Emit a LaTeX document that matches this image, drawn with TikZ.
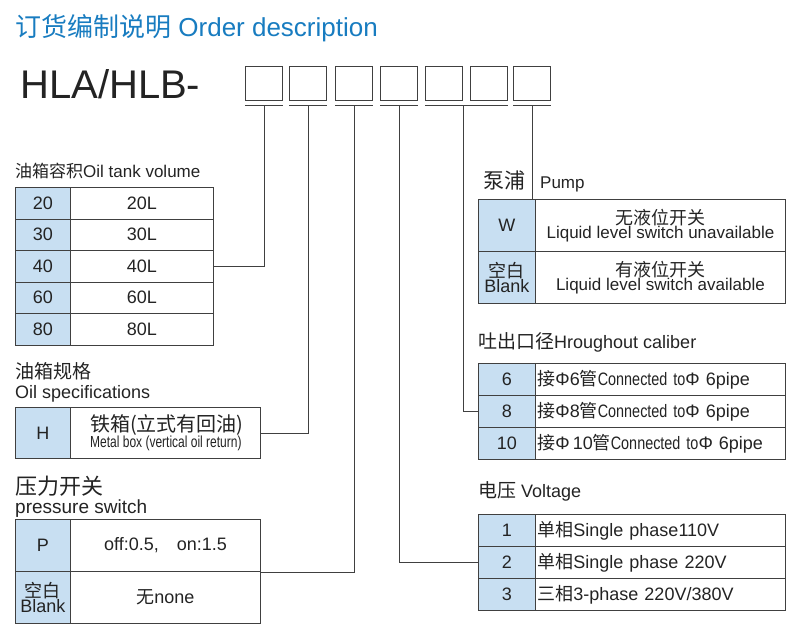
\documentclass[tikz,border=0pt]{standalone}
\usepackage{fontspec}
\setmainfont{Liberation Sans}
\newfontfamily\zhfont{Noto Sans CJK SC}
\newcommand{\zh}[1]{{\zhfont #1}}
\usetikzlibrary{positioning}
\definecolor{keyblue}{RGB}{200,223,242}
\definecolor{titleblue}{RGB}{24,124,192}
\definecolor{txt}{RGB}{35,35,35}

\tikzset{
  cell/.style={draw=black!75, line width=0.9pt, inner sep=0pt, anchor=north west,
    align=center, text=txt, font=\fontsize{18}{18}\selectfont},
  keycell/.style={cell, fill=keyblue, minimum width=55pt},
  digit/.style={draw=black!75, line width=0.9pt, minimum width=37pt, minimum height=34pt, inner sep=0pt},
  lbl/.style={anchor=base west, inner sep=0pt, text=txt},
  wire/.style={draw=black!75, line width=0.8pt}
}

\begin{document}
\begin{tikzpicture}[x=1pt,y=1pt]
\useasboundingbox (0,0) rectangle (800,-635);

% title and code
\node[lbl, text=titleblue, font=\fontsize{26}{28}\selectfont] (title) at (15,-36)
  {\zh{订货编制说明} Order description};
\node[lbl, font=\fontsize{40}{42}\selectfont] (code) at (20,-98) {HLA/HLB-};
\foreach \i/\x in {1/264,2/308,3/354,4/399,5/444,6/489,7/532}
  \node[digit] (b\i) at (\x,-83) {};
\foreach \i in {1,2,3,4,7}
  \draw[wire] ([yshift=-5pt]b\i.south west) -- ([yshift=-5pt]b\i.south east);
\draw[wire] ([yshift=-5pt]b5.south west) -- ([yshift=-5pt]b6.south east);

% oil tank volume
\node[lbl, font=\fontsize{17}{18}\selectfont] (lvol) at (15,-177) {\zh{油箱容积}Oil tank volume};
\foreach \k [count=\n from 0] in {20,30,40,60,80} {
  \node[keycell, minimum height=31.5pt] (k\k) at (15,-187-31.5*\n) {\k};
  \node[cell, minimum width=143pt, minimum height=31.5pt] (v\k) at (70,-187-31.5*\n) {\k L};
}

% oil specifications
\node[lbl, font=\fontsize{19}{19}\selectfont] (lspec) at (15,-378) {\zh{油箱规格}};
\node[lbl, font=\fontsize{18}{18}\selectfont] (lspecen) at (15,-398) {Oil specifications};
\node[keycell, minimum height=51pt] (kH) at (15,-407) {H};
\node[cell, minimum width=190pt, minimum height=51pt, align=left] (vH) at (70,-407)
  {\hspace*{3pt}\fontsize{20}{21}\selectfont\zh{铁箱(立式有回油)}\\[-2pt]
   \hspace*{3pt}\fontsize{16}{16}\selectfont\addfontfeature{FakeStretch=0.75}Metal box (vertical oil return)};

% pressure switch
\node[lbl, font=\fontsize{22}{22}\selectfont] (lpre) at (15,-494) {\zh{压力开关}};
\node[lbl, font=\fontsize{19}{19}\selectfont] (lpreen) at (15,-513) {pressure switch};
\node[keycell, minimum height=52pt] (kP) at (15,-519) {P};
\node[cell, minimum width=190pt, minimum height=52pt] (vP) at (70,-519) {off:0.5,\quad on:1.5};
\node[keycell, minimum height=52pt] (kB) at (15,-571) {\zh{空白}\\[-3pt]Blank};
\node[cell, minimum width=190pt, minimum height=52pt] (vB) at (70,-571) {\zh{无}none};

% pump
\node[lbl, font=\fontsize{21}{21}\selectfont] (lpump) at (483,-188) {\zh{泵浦}};
\node[lbl, font=\fontsize{17}{17}\selectfont] (lpumpen) at (540,-188) {Pump};
\node[keycell, minimum width=57pt, minimum height=52pt] (kW) at (478,-199) {W};
\node[cell, minimum width=250pt, minimum height=52pt] (vW) at (535,-199)
  {\zh{无液位开关}\\[-4pt]\fontsize{17}{17}\selectfont Liquid level switch unavailable};
\node[keycell, minimum width=57pt, minimum height=52pt] (kPB) at (478,-251) {\zh{空白}\\[-3pt]Blank};
\node[cell, minimum width=250pt, minimum height=52pt] (vPB) at (535,-251)
  {\zh{有液位开关}\\[-4pt]\fontsize{17}{17}\selectfont Liquid level switch available};

% throughout caliber
\node[lbl, font=\fontsize{19}{19}\selectfont] (lcal) at (478,-348) {\zh{吐出口径}\fontsize{18}{18}\selectfont Hroughout caliber};
\foreach \k/\t [count=\n from 0] in {6/6,8/8,10/\,10} {
  \node[keycell, minimum width=57pt, minimum height=32pt] (c\k) at (478,-363-32*\n) {\k};
  \node[cell, minimum width=250pt, minimum height=32pt, text width=246pt, align=left] (d\k) at (535,-363-32*\n)
    {\zh{接}Φ\t\zh{管}{\addfontfeature{FakeStretch=0.8}Connected to}Φ 6pipe};
}

% voltage
\node[lbl, font=\fontsize{19}{19}\selectfont] (lvolt) at (478,-497) {\zh{电压}\fontsize{18}{18}\selectfont\ Voltage};
\foreach \k/\t [count=\n from 0] in {1/{\zh{单相}Single phase110V},2/{\zh{单相}Single phase 220V},3/{\zh{三相}3-phase 220V/380V}} {
  \node[keycell, minimum width=57pt, minimum height=32pt] (u\k) at (478,-514-32*\n) {\k};
  \node[cell, minimum width=250pt, minimum height=32pt, text width=246pt, align=left] (w\k) at (535,-514-32*\n) {\t};
}

% connectors
\draw[wire] ([yshift=-5pt]b1.south) |- (v40.east);
\draw[wire] ([yshift=-5pt]b2.south) |- (vH.east);
\draw[wire] ([yshift=-5pt]b3.south) |- (vP.south east);
\draw[wire] ([yshift=-5pt]b4.south) |- (u2.west);
\draw[wire] ([yshift=-5pt]b5.south east) |- (c8.west);
\draw[wire] ([yshift=-5pt]b7.south) -- (b7.south |- vW.north);
\end{tikzpicture}
\end{document}
